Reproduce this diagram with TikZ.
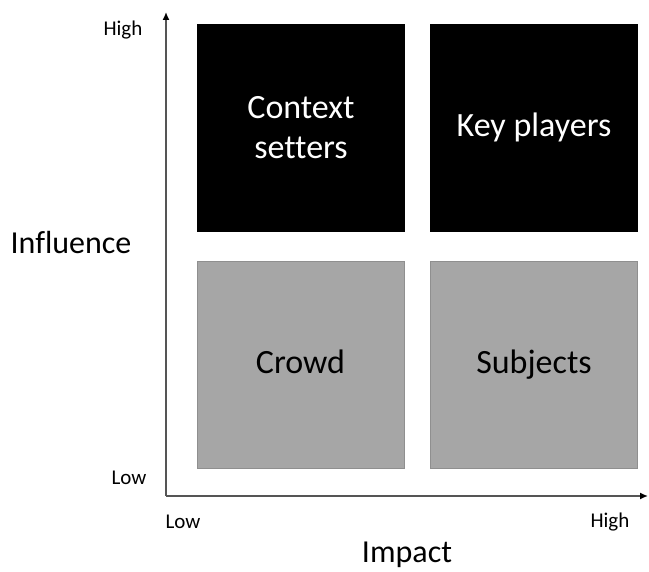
\documentclass[tikz,border=0pt]{standalone}
\usepackage{fontspec}
\setmainfont{Carlito}[Ligatures=CommonOff]
\usepackage{tikz}
\usetikzlibrary{positioning,arrows.meta}
\usepackage{xcolor}
\definecolor{quadgrey}{HTML}{A6A6A6}
\definecolor{quadedge}{HTML}{8F8F8F}
\definecolor{axisgrey}{HTML}{555555}

\begin{document}
\begin{tikzpicture}[x=1pt, y=-1pt,
  quad/.style={minimum width=208pt, minimum height=208pt, inner sep=0, align=center, font=\fontsize{34}{40}\selectfont},
  oneline/.style={text height=25pt, text depth=7pt},
  hiquad/.style={quad, fill=black, text=white},
  loquad/.style={quad, oneline, fill=quadgrey, draw=quadedge, line width=0.8pt, text=black},
  tick/.style={font=\fontsize{21}{24}\selectfont},
  axlabel/.style={font=\fontsize{32}{36}\selectfont}]

  \useasboundingbox (0, 0) rectangle (649, 572);

  % Quadrants
  \node[hiquad] (ctx) at (301, 128) {Context\\setters};
  \node[hiquad, oneline] (key) at (534, 128) {Key players};
  \node[loquad, minimum width=207pt, minimum height=207pt] (crowd) at (300.5, 364.5) {Crowd};
  \node[loquad, minimum width=207pt, minimum height=207pt] (subj) at (534, 364.5) {Subjects};

  % Axes
  \coordinate (orig) at (166, 496);
  \coordinate (ytip) at (166, 12);
  \coordinate (xtip) at (648, 496);
  \draw[axisgrey, line width=1.5pt, -{Latex[black, length=8pt, width=7pt]}] (orig) -- (ytip);
  \draw[axisgrey, line width=1.5pt, -{Latex[black, length=8pt, width=7pt]}] (orig) -- (xtip);

  % Labels
  \node[tick] (yhi) at (123, 30) {High};
  \node[tick] (ylo) at (129, 478) {Low};
  \node[tick] (xlo) at (183, 522) {Low};
  \node[tick] (xhi) at (610, 522) {High};
  \node[axlabel] (infl) at (71, 243) {Influence};
  \node[axlabel] (imp) at (407, 555) {Impact};

\end{tikzpicture}
\end{document}
